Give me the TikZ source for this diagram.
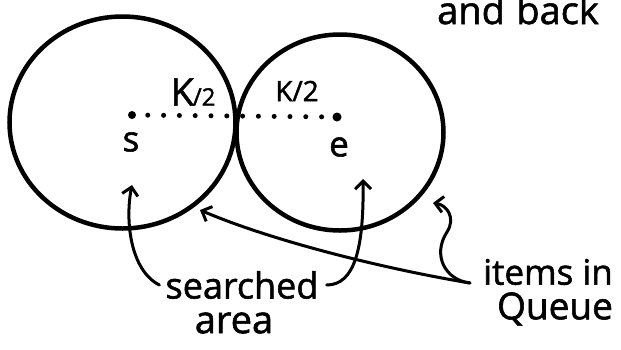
\documentclass[tikz,border=0pt]{standalone}
\usepackage{fontspec}
\newfontfamily\handfont{Open Sans}[FakeBold=1.5]
\usetikzlibrary{arrows.meta,shapes.geometric}

\begin{document}
\begin{tikzpicture}[x=1pt,y=-1pt,
  rim/.style={ellipse,draw,line width=4.5pt,inner sep=0pt},
  centre/.style={circle,fill,inner sep=0pt,minimum size=8pt},
  reach/.style={line width=5pt,line cap=round,dash pattern=on 0pt off 15.8pt},
  hand/.style={inner sep=0pt,font=\handfont\fontsize{35}{38}\selectfont},
  pointer/.style={line width=3pt,line cap=round,
    -{Straight Barb[length=8pt,width=16pt,line width=3pt]}}]
\useasboundingbox (0,0) rectangle (621,349);
\clip (0,0) rectangle (621,349);

% the two search balls
\node[rim,minimum width=226pt,minimum height=212pt] (sball) at (122.5,122.5) {};
\node[rim,minimum width=207pt,minimum height=196pt] (eball) at (340,132.5) {};

% start and end points with the dotted radius between them
\node[centre] (s) at (132,115) {};
\node[centre,minimum size=9pt] (e) at (337,117) {};
\draw[reach] (s.center) -- (e.center);

\node[hand] (slabel) at (131,142) {s};
\node[hand] (elabel) at (339,147) {e};
\node[hand,font=\handfont\fontsize{38}{40}\selectfont] (kleft) at (193,92)
  {K\kern-1pt\fontsize{24}{26}\selectfont/2};
\node[hand,font=\handfont\fontsize{28}{30}\selectfont] (kright) at (297,91) {K/2};

% captions
\node[hand,font=\handfont\fontsize{36}{40}\selectfont] (srch) at (242,285) {searched};
\node[hand,font=\handfont\fontsize{38}{40}\selectfont] (area) at (234,323) {area};
\node[hand] (items) at (548,272) {items in};
\node[hand,font=\handfont\fontsize{37}{40}\selectfont] (queue) at (555,309) {Queue};
\node[hand,anchor=base west,font=\handfont\fontsize{38}{40}\selectfont] (top) at (437,24)
  {and\hspace{0.3em}back};

% arrow targets
\coordinate (sin) at (132,185);
\coordinate (ein) at (363,179);
\coordinate (srim) at (200,210);
\coordinate (erim) at (433,203);
\coordinate (q) at (470,283);

\draw[pointer] ([xshift=-6pt]srch.west) .. controls (130,270) and (125,220) .. (sin);
\draw[pointer] ([xshift=8pt]srch.east) .. controls (354,285) and (364,250) .. (ein);
\draw[pointer] (q) .. controls (380,268) and (270,240) .. (srim);
\draw[pointer] (q) .. controls (445,280) and (432,255) .. (447,232)
  .. controls (456,218) and (447,205) .. (erim);
\end{tikzpicture}
\end{document}
